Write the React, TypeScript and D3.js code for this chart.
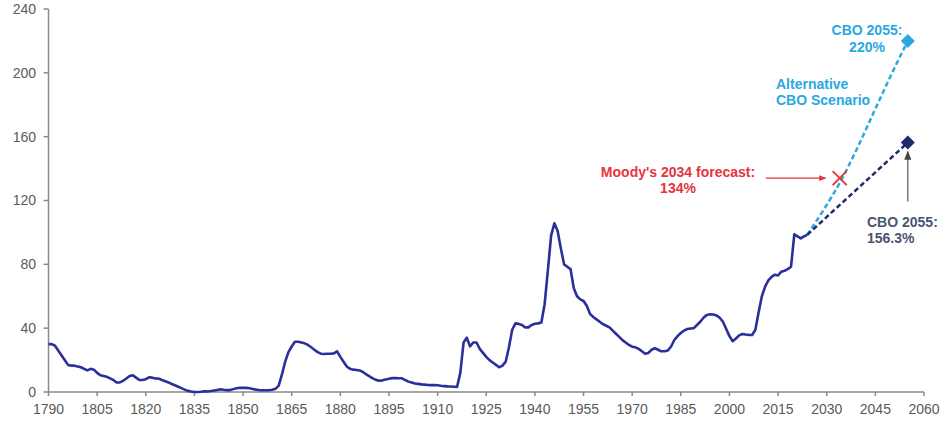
import React from "react";
import * as d3 from "d3";

// ---- Data ----
const histYears: number[] = [
  1790,1791,1792,1793,1794,1795,1796,1797,1798,1799,
  1800,1801,1802,1803,1804,1805,1806,1807,1808,1809,
  1810,1811,1812,1813,1814,1815,1816,1817,1818,1819,
  1820,1821,1822,1823,1824,1825,1826,1827,1828,1829,
  1830,1831,1832,1833,1834,1835,1836,1837,1838,1839,
  1840,1841,1842,1843,1844,1845,1846,1847,1848,1849,
  1850,1851,1852,1853,1854,1855,1856,1857,1858,1859,
  1860,1861,1862,1863,1864,1865,1866,1867,1868,1869,
  1870,1871,1872,1873,1874,1875,1876,1877,1878,1879,
  1880,1881,1882,1883,1884,1885,1886,1887,1888,1889,
  1890,1891,1892,1893,1894,1895,1896,1897,1898,1899,
  1900,1901,1902,1903,1904,1905,1906,1907,1908,1909,
  1910,1911,1912,1913,1914,1915,1916,1917,1918,1919,
  1920,1921,1922,1923,1924,1925,1926,1927,1928,1929,
  1930,1931,1932,1933,1934,1935,1936,1937,1938,1939,
  1940,1941,1942,1943,1944,1945,1946,1947,1948,1949,
  1950,1951,1952,1953,1954,1955,1956,1957,1958,1959,
  1960,1961,1962,1963,1964,1965,1966,1967,1968,1969,
  1970,1971,1972,1973,1974,1975,1976,1977,1978,1979,
  1980,1981,1982,1983,1984,1985,1986,1987,1988,1989,
  1990,1991,1992,1993,1994,1995,1996,1997,1998,1999,
  2000,2001,2002,2003,2004,2005,2006,2007,2008,2009,
  2010,2011,2012,2013,2014,2015,2016,2017,2018,2019,
  2020,2021,2022,2023,2024,
];
const histDebt: number[] = [
  30,30,29,26,23,20,17,16.5,16.5,16,
  15.5,14.5,13.5,14.5,14,12,10.5,10,9.5,8.5,
  7.5,6,6,7,8.5,10,10.5,9,7.5,7.5,
  8,9.2,9,8.5,8.4,7.5,6.8,6,5,4.2,
  3.3,2.4,1.5,0.7,0.3,0,0,0.2,0.5,0.4,
  0.6,0.9,1.3,1.7,1.4,1.2,1.2,1.8,2.4,2.7,
  2.6,2.6,2.3,1.9,1.5,1.2,1.1,1.1,1.2,1.4,
  2,4,11,19,25,28.5,31.5,31.5,31,30.5,
  29.5,28,26.5,25,24,23.8,24,24,24.2,25.5,
  22,19,16,14.5,14,13.8,13.5,12.5,11,9.8,
  8.5,7.6,7.1,7.3,7.8,8.3,8.7,8.8,8.6,8.6,
  7.5,6.5,5.9,5.3,5.1,4.8,4.6,4.4,4.3,4.3,
  4.2,3.9,3.7,3.5,3.4,3.3,3.2,12,31,34,
  28.6,31,31,27,24.5,22,20,18.5,17,15.5,
  16.5,19,28,39,43,42.7,42,40.5,40.5,42,
  42.8,43,43.5,55,76,98,105.7,101,90,80,
  78.5,77,65,60,58,57,54,49,47,45.5,
  44,42.5,41.5,40.5,38.5,36.5,34.5,32.5,31,29.5,
  28.4,28,27,25.5,24,24.5,26.5,27.4,26.5,25.5,
  25.5,26,28.5,32.6,35,37,38.5,39.5,39.8,40,
  42,44,46.5,48.3,48.7,48.6,48,46.5,44,39.5,
  35,31.8,33.5,35.5,36.3,36,35.8,35.7,39,50,
  60,66,70,72.2,73.5,73,75.4,76,77,78.5,
  98.8,97.5,96.3,97.5,98.5,
];
const cboYears: number[] = [2024, 2055];
const cboDebt: number[] = [98.5, 156.3];
const altYears: number[] = [2024, 2029, 2034, 2039, 2044, 2049, 2055];
const altDebt: number[] = [98.5, 114, 131, 151, 173, 195, 220];
const moodyYear = 2034;
const moodyDebt = 134;
const yTicks: number[] = [0, 40, 80, 120, 160, 200, 240];
const xTicks: number[] = [1790,1805,1820,1835,1850,1865,1880,1895,1910,1925,1940,1955,1970,1985,2000,2015,2030,2045,2060];

const FONT = "'Liberation Sans', Arial, Helvetica, sans-serif";

export default function App() {
  const W = 947, H = 422;
  const x = d3.scaleLinear().domain([1790, 2060]).range([48.5, 924]);
  const y = d3.scaleLinear().domain([0, 240]).range([392, 9]);

  const hist = histYears.map((yr, i) => [yr, histDebt[i]] as [number, number]);
  const cbo = cboYears.map((yr, i) => [yr, cboDebt[i]] as [number, number]);
  const alt = altYears.map((yr, i) => [yr, altDebt[i]] as [number, number]);

  const line = d3.line<[number, number]>().x(d => x(d[0])).y(d => y(d[1]));
  const curve = d3.line<[number, number]>().x(d => x(d[0])).y(d => y(d[1])).curve(d3.curveMonotoneX);

  const navy = "#2a2f9b";
  const dark = "#1e2b6b";
  const light = "#2aa8e0";
  const red = "#e6343d";
  const axisC = "#8a8a8a";
  const tickText = "#5a5a5a";

  const diamond = (cx: number, cy: number, r: number) =>
    `M${cx},${cy - r}L${cx + r},${cy}L${cx},${cy + r}L${cx - r},${cy}Z`;

  const mx = x(moodyYear), my = y(moodyDebt);
  const cboEnd = cbo[cbo.length - 1];
  const altEnd = alt[alt.length - 1];
  const dx = x(cboEnd[0]), dy = y(cboEnd[1]);
  const ax = x(altEnd[0]), ay = y(altEnd[1]);

  return (
    <svg width={W} height={H} style={{ position: "absolute", left: 0, top: 0, background: "#fff" }} fontFamily={FONT}>
      <defs>
        <marker id="arrRed" viewBox="0 0 10 10" refX="9" refY="5" markerWidth="6" markerHeight="6" orient="auto">
          <path d="M0,1L10,5L0,9Z" fill={red} />
        </marker>
        <marker id="arrGray" viewBox="0 0 10 10" refX="9" refY="5" markerWidth="6" markerHeight="6" orient="auto">
          <path d="M0,1L10,5L0,9Z" fill="#444" />
        </marker>
      </defs>

      {/* axes */}
      <line x1={x(1790)} x2={x(2060)} y1={y(0)} y2={y(0)} stroke={axisC} strokeWidth={1.5} />
      <line x1={x(1790)} x2={x(1790)} y1={y(0)} y2={y(240)} stroke={axisC} strokeWidth={1.5} />
      {yTicks.map(t => (
        <g key={"y" + t}>
          <line x1={x(1790) - 5} x2={x(1790)} y1={y(t)} y2={y(t)} stroke={axisC} strokeWidth={1.5} />
          <text x={36} y={y(t)} dy="0.35em" textAnchor="end" fontSize={14} fill={tickText}>{t}</text>
        </g>
      ))}
      {xTicks.map(t => (
        <g key={"x" + t}>
          <line x1={x(t)} x2={x(t)} y1={y(0)} y2={y(0) + 4} stroke={axisC} strokeWidth={1.5} />
          <text x={x(t)} y={414} textAnchor="middle" fontSize={14} fill={tickText}>{t}</text>
        </g>
      ))}

      {/* projections */}
      <path d={curve(alt) || ""} fill="none" stroke={light} strokeWidth={2.5} strokeDasharray="5,3" />
      <path d={line(cbo) || ""} fill="none" stroke={dark} strokeWidth={2.5} strokeDasharray="5,3" />

      {/* historical */}
      <path d={line(hist) || ""} fill="none" stroke={navy} strokeWidth={2.6} strokeLinejoin="round" />

      {/* markers */}
      <path d={diamond(ax, ay, 7)} fill={light} />
      <path d={diamond(dx, dy, 7)} fill={dark} />
      <g stroke={red} strokeWidth={2}>
        <line x1={mx - 7} x2={mx + 7} y1={my - 7} y2={my + 7} />
        <line x1={mx - 7} x2={mx + 7} y1={my + 7} y2={my - 7} />
      </g>

      {/* annotations */}
      <line x1={mx - 74} x2={mx - 14} y1={my} y2={my} stroke={red} strokeWidth={1.2} markerEnd="url(#arrRed)" />
      <text x={678} y={177} textAnchor="middle" fontSize={14} fontWeight="bold" fill={red}>Moody's 2034 forecast:</text>
      <text x={678} y={193} textAnchor="middle" fontSize={14} fontWeight="bold" fill={red}>{moodyDebt}%</text>

      <text x={867} y={35} textAnchor="middle" fontSize={14} fontWeight="bold" fill={light}>CBO {altEnd[0]}:</text>
      <text x={867} y={52} textAnchor="middle" fontSize={14} fontWeight="bold" fill={light}>{altEnd[1]}%</text>
      <text x={776} y={89} fontSize={14} fontWeight="bold" fill={light}>Alternative</text>
      <text x={776} y={105} fontSize={14} fontWeight="bold" fill={light}>CBO Scenario</text>

      <line x1={dx} x2={dx} y1={dy + 59} y2={dy + 9} stroke="#777" strokeWidth={1.5} markerEnd="url(#arrGray)" />
      <text x={867} y={227} fontSize={14} fontWeight="bold" fill="#4a5572">CBO {cboEnd[0]}:</text>
      <text x={867} y={243} fontSize={14} fontWeight="bold" fill="#4a5572">{cboEnd[1]}%</text>
    </svg>
  );
}
